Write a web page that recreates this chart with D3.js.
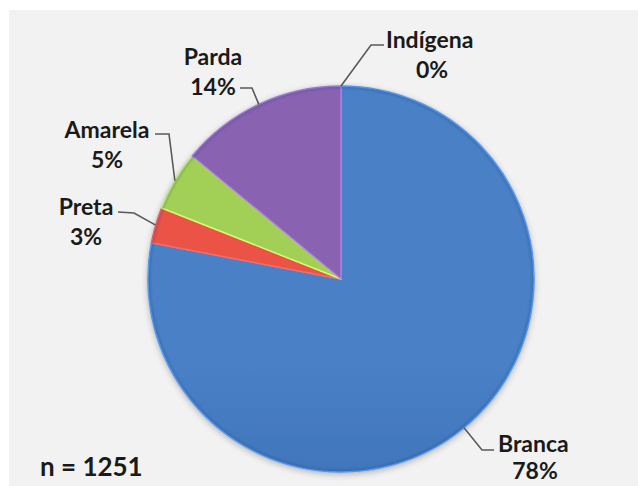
<!DOCTYPE html>
<html>
<head>
<meta charset="utf-8">
<script src="https://cdn.jsdelivr.net/npm/d3@7"></script>
<style>
  body { margin: 0; background: #ffffff; }
  svg { display: block; }
  text { font-family: Lato, "Open Sans", sans-serif; font-weight: 700; fill: #1a1a1a; }
</style>
</head>
<body>
<script>
// Distribution by colour/race (percent of respondents)
const categories = ["Branca", "Preta", "Amarela", "Parda", "Indígena"];
const percents   = [78, 3, 5, 14, 0];
const sampleSize = 1251;

// Slice colours, light top tone and dark bottom tone
const sliceLight = ["#4880c6", "#ec5247", "#a2d056", "#8a62b2", "#4880c6"];
const sliceDark  = ["#2f5d9f", "#cc3128", "#84b438", "#6a4393", "#2f5d9f"];

// Label placement: elbow of the leader line, end of the leader, text anchor
const labelLayout = {
  "Branca":   { elbow: [482, 450], end: [494, 450], tx: 498, ty: 452, anchor: "start",  px: 535, py: 479 },
  "Preta":    { elbow: [134, 213], end: [118, 212], tx: 86,  ty: 215, anchor: "middle", px: 86,  py: 245 },
  "Amarela":  { elbow: [169, 134], end: [155, 134], tx: 107, ty: 138, anchor: "middle", px: 107, py: 168 },
  "Parda":    { elbow: [252, 88],  end: [240, 88],  tx: 213, ty: 65,  anchor: "middle", px: 213, py: 95 },
  "Indígena": { elbow: [371, 45],  end: [384, 45],  tx: 386, ty: 48,  anchor: "start",  px: 432, py: 78 }
};

const W = 638, H = 486;
const cx = 341, cy = 279, R = 193;

const svg = d3.select("body").append("svg")
  .attr("width", W).attr("height", H);

// Chart area background
svg.append("rect").attr("x", 9).attr("y", 10).attr("width", W - 9).attr("height", H - 10)
  .attr("fill", "#f2f2f2");

const defs = svg.append("defs");
categories.forEach((c, i) => {
  const g = defs.append("linearGradient").attr("id", "grad" + i)
    .attr("gradientUnits", "userSpaceOnUse")
    .attr("x1", cx).attr("y1", cy - R).attr("x2", cx).attr("y2", cy + R);
  g.append("stop").attr("offset", "0%").attr("stop-color", sliceLight[i]);
  g.append("stop").attr("offset", "100%").attr("stop-color", sliceDark[i]);
});
const shadow = defs.append("filter").attr("id", "shadow")
  .attr("x", "-20%").attr("y", "-20%").attr("width", "140%").attr("height", "140%");
shadow.append("feGaussianBlur").attr("in", "SourceAlpha").attr("stdDeviation", 3);
shadow.append("feOffset").attr("dy", 2).attr("result", "b");
shadow.append("feComponentTransfer").append("feFuncA").attr("type", "linear").attr("slope", 0.25);
const merge = shadow.append("feMerge");
merge.append("feMergeNode");
merge.append("feMergeNode").attr("in", "SourceGraphic");

const soft = defs.append("filter").attr("id", "soft");
soft.append("feGaussianBlur").attr("stdDeviation", 0.8);

const data = categories.map((c, i) => ({ name: c, value: percents[i], idx: i }));
const pie = d3.pie().sort(null).value(d => d.value)
  .startAngle(0).endAngle(2 * Math.PI);
const arcs = pie(data);

const arc = d3.arc().innerRadius(0).outerRadius(R);
const edgeArc = d3.arc().innerRadius(R).outerRadius(R);

const pieG = svg.append("g").attr("transform", `translate(${cx},${cy})`)
  .attr("filter", "url(#shadow)");

pieG.selectAll("path.slice")
  .data(arcs.filter(d => d.value > 0))
  .join("path")
  .attr("class", "slice")
  .attr("d", arc)
  .attr("fill", d => `url(#grad${d.data.idx})`)
  .attr("stroke", d => d3.color(sliceLight[d.data.idx]).brighter(0.7))
  .attr("stroke-width", 1.5)
  .attr("stroke-linejoin", "round");

// Soft outer rim
pieG.append("circle").attr("r", R - 1).attr("fill", "none")
  .attr("stroke", "#1d3f73").attr("stroke-opacity", 0.3).attr("stroke-width", 2)
  .attr("filter", "url(#soft)");

// Leader lines and labels
const labelG = svg.append("g");
arcs.forEach(d => {
  const L = labelLayout[d.data.name];
  const [ex, ey] = edgeArc.centroid(d);
  const pts = [[cx + ex, cy + ey], L.elbow, L.end];
  labelG.append("path")
    .attr("d", d3.line()(pts))
    .attr("fill", "none").attr("stroke", "#5a5a5a").attr("stroke-width", 1.6);
  labelG.append("text").attr("x", L.tx).attr("y", L.ty)
    .attr("text-anchor", L.anchor).attr("font-size", 23)
    .text(d.data.name);
  labelG.append("text").attr("x", L.px).attr("y", L.py)
    .attr("text-anchor", "middle").attr("font-size", 23)
    .text(d.data.value + "%");
});

svg.append("text").attr("x", 40).attr("y", 476).attr("font-size", 26)
  .text("n = " + sampleSize);
</script>
</body>
</html>
